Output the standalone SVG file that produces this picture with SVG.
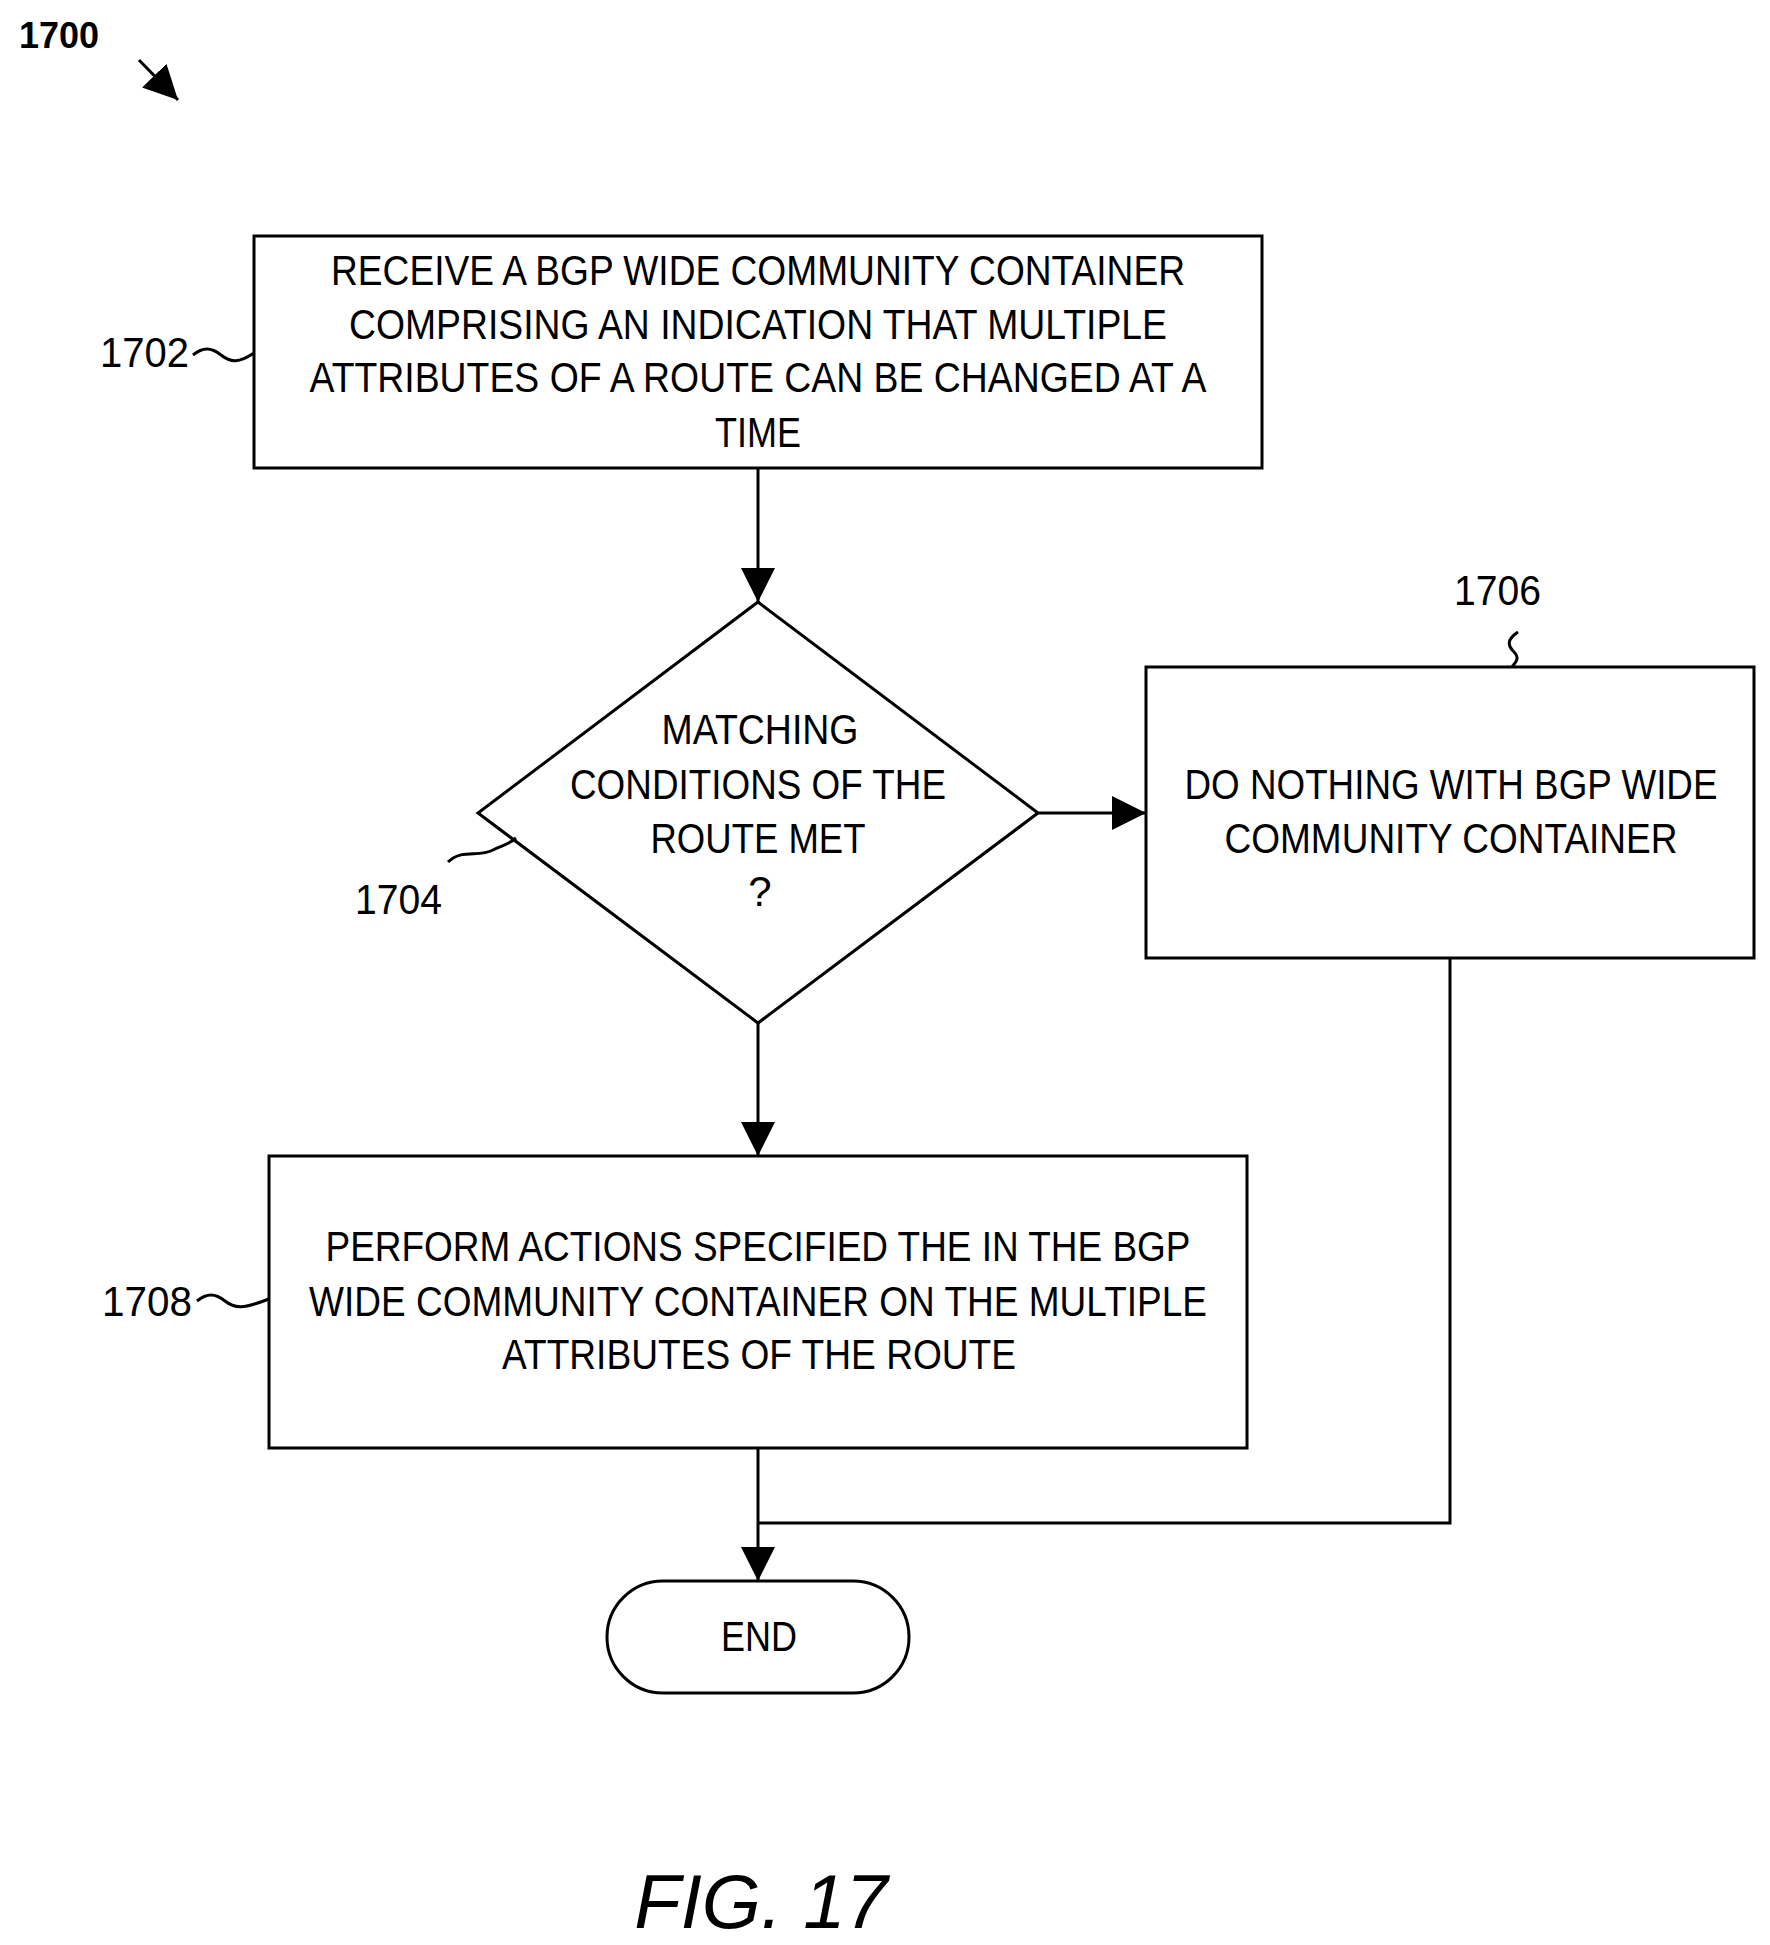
<svg xmlns="http://www.w3.org/2000/svg" width="1770" height="1945" viewBox="0 0 1770 1945">
<style>
text{font-family:"Liberation Sans",Arial,sans-serif;font-size:42px;fill:#000}
.c{text-anchor:middle}
.s{fill:none;stroke:#000;stroke-width:3}
</style>
<defs><marker id="a" markerWidth="12" markerHeight="12" refX="10" refY="6" orient="auto" markerUnits="userSpaceOnUse"><path d="M0,0 L12,6 L0,12z" transform="scale(1)"/></marker>
<marker id="b" viewBox="0 0 10 10" markerWidth="34" markerHeight="34" refX="10" refY="5" orient="auto" markerUnits="userSpaceOnUse"><path d="M0,0 L10,5 L0,10z"/></marker></defs>
<rect width="1770" height="1945" fill="#fff"/>
<text x="19" y="48" style="font-weight:bold;font-size:36px">1700</text>
<path class="s" d="M139,60 L178,100" marker-end="url(#b)" stroke-width="4"/>
<g id="n1702"><rect class="s" x="254" y="236" width="1008" height="232"/>
<text class="c" x="758" y="285" textLength="854" lengthAdjust="spacingAndGlyphs">RECEIVE A BGP WIDE COMMUNITY CONTAINER</text>
<text class="c" x="758" y="339" textLength="818" lengthAdjust="spacingAndGlyphs">COMPRISING AN INDICATION THAT MULTIPLE</text>
<text class="c" x="758" y="392" textLength="897" lengthAdjust="spacingAndGlyphs">ATTRIBUTES OF A ROUTE CAN BE CHANGED AT A</text>
<text class="c" x="758" y="447" textLength="86" lengthAdjust="spacingAndGlyphs">TIME</text>
<text x="100" y="367" textLength="89" lengthAdjust="spacingAndGlyphs">1702</text>
<path class="s" d="M193,355 c10,-8 18,-8 28,0 c10,8 18,8 33,-2"/></g>
<g id="n1704"><path class="s" d="M758,602 L1038,813 L758,1023 L478,813z"/>
<text class="c" x="760" y="744" textLength="197" lengthAdjust="spacingAndGlyphs">MATCHING</text>
<text class="c" x="758" y="799" textLength="376" lengthAdjust="spacingAndGlyphs">CONDITIONS OF THE</text>
<text class="c" x="758" y="853" textLength="215" lengthAdjust="spacingAndGlyphs">ROUTE MET</text>
<text class="c" x="760" y="906">?</text>
<text x="355" y="914" textLength="87" lengthAdjust="spacingAndGlyphs">1704</text>
<path class="s" d="M448,862 c15,-14 30,-4 45,-12 c10,-5 15,-5 23,-12"/></g>
<g id="n1706"><rect class="s" x="1146" y="667" width="608" height="291"/>
<text class="c" x="1451" y="799" textLength="533" lengthAdjust="spacingAndGlyphs">DO NOTHING WITH BGP WIDE</text>
<text class="c" x="1451" y="853" textLength="453" lengthAdjust="spacingAndGlyphs">COMMUNITY CONTAINER</text>
<text x="1454" y="605" textLength="87" lengthAdjust="spacingAndGlyphs">1706</text>
<path class="s" d="M1518,632 c-12,8 -10,14 -4,20 c6,6 2,10 -2,15"/></g>
<g id="n1708"><rect class="s" x="269" y="1156" width="978" height="292"/>
<text class="c" x="758" y="1261" textLength="865" lengthAdjust="spacingAndGlyphs">PERFORM ACTIONS SPECIFIED THE IN THE BGP</text>
<text class="c" x="758" y="1316" textLength="898" lengthAdjust="spacingAndGlyphs">WIDE COMMUNITY CONTAINER ON THE MULTIPLE</text>
<text class="c" x="759" y="1369" textLength="514" lengthAdjust="spacingAndGlyphs">ATTRIBUTES OF THE ROUTE</text>
<text x="102" y="1316" textLength="90" lengthAdjust="spacingAndGlyphs">1708</text>
<path class="s" d="M197,1301 c10,-8 18,-8 28,0 c10,8 18,8 44,-2"/></g>
<g id="end"><rect class="s" x="607" y="1581" width="302" height="112" rx="56"/>
<text class="c" x="759" y="1651" textLength="76" lengthAdjust="spacingAndGlyphs">END</text></g>
<g id="connectors">
<path class="s" d="M758,468 L758,602" marker-end="url(#b)"/>
<path class="s" d="M1038,813 L1146,813" marker-end="url(#b)"/>
<path class="s" d="M758,1023 L758,1156" marker-end="url(#b)"/>
<path class="s" d="M758,1448 L758,1581" marker-end="url(#b)"/>
<path class="s" d="M1450,958 L1450,1523 L758,1523"/>
</g>
<text class="c" x="761" y="1928" style="font-style:italic;font-size:76px">FIG. 17</text>
</svg>
